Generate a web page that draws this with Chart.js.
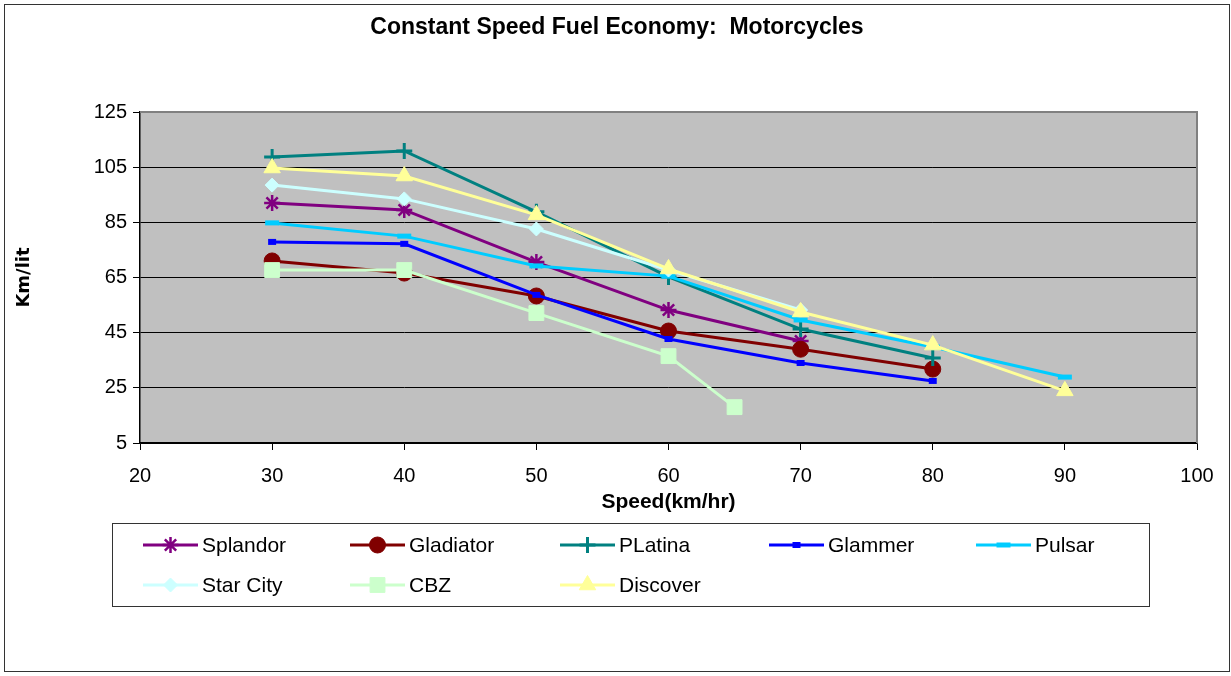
<!DOCTYPE html>
<html>
<head>
<meta charset="utf-8">
<script src="https://cdn.jsdelivr.net/npm/chart.js"></script>
<style>
  html, body { margin: 0; padding: 0; background: #fff; }
  canvas { display: block; }
</style>
</head>
<body>
<canvas id="fuelChart" width="1231" height="676"></canvas>
<script>
// speeds (km/hr) used by each series
const speedTo70 = [30, 40, 50, 60, 70];
const speedTo80 = [30, 40, 50, 60, 70, 80];
const speedTo90 = [30, 40, 50, 60, 70, 80, 90];
const cbzSpeeds = [30, 40, 50, 60, 65];

// fuel economy (km/lit)
const splandor = [92, 89.5, 70.6, 53.2, 42];
const gladiator = [71, 66.6, 58.3, 45.6, 39, 31.8];
const platina = [108.7, 110.9, 88.8, 65.2, 46.3, 35.8];
const glammer = [77.9, 77.2, 58.7, 42.7, 34, 27.5];
const pulsar = [84.8, 80, 69.2, 65.5, 49.6, 39.8, 28.9];
const starCity = [98.5, 93.5, 82.6, 67.7, 53.2];
const cbz = [67.7, 67.7, 52.1, 36.5, 18];
const discover = [104.7, 101.8, 87.7, 68.1, 52.5, 40.5, 23.9];

const xTicks = [20, 30, 40, 50, 60, 70, 80, 90, 100];
const yTicks = [5, 25, 45, 65, 85, 105, 125];

const chartTitle = 'Constant Speed Fuel Economy:  Motorcycles';
const FONT = '"Liberation Sans", Arial, sans-serif';

function pts(xs, ys) {
  return xs.map((x, i) => ({ x: x, y: ys[i] }));
}

function series(label, xs, ys, color, style, radius, pbw) {
  return {
    label: label,
    data: pts(xs, ys),
    borderColor: color,
    backgroundColor: color,
    borderWidth: 3,
    tension: 0,
    pointStyle: style,
    pointRadius: radius,
    pointBackgroundColor: color,
    pointBorderColor: color,
    pointBorderWidth: pbw,
  };
}

const datasets = [
  series('Splandor', speedTo70, splandor, '#800080', 'star', 8, 2.5),
  series('Gladiator', speedTo80, gladiator, '#800000', 'circle', 8, 1),
  series('PLatina', speedTo80, platina, '#008080', 'cross', 8, 3),
  series('Glammer', speedTo80, glammer, '#0000ff', 'line', 4, 6),
  series('Pulsar', speedTo90, pulsar, '#00ccff', 'line', 7, 5),
  series('Star City', speedTo70, starCity, '#ccffff', 'rectRot', 7, 1),
  series('CBZ', cbzSpeeds, cbz, '#ccffcc', 'rect', 10.5, 1),
  series('Discover', speedTo90, discover, '#ffff99', 'triangle', 9.5, 1),
];
// later series drawn on top, like the original
datasets.forEach((d, i) => { d.order = datasets.length - i; });

const legendCols = [143, 350, 560, 769, 976];
const legendRows = [545, 585];

const frame = {
  id: 'frame',
  beforeDraw(chart) {
    const { ctx, chartArea: a } = chart;
    ctx.save();
    ctx.fillStyle = '#fff';
    ctx.fillRect(0, 0, chart.width, chart.height);
    ctx.fillStyle = '#c0c0c0';
    ctx.fillRect(a.left, a.top, a.right - a.left, a.bottom - a.top);
    ctx.strokeStyle = '#333';
    ctx.lineWidth = 1;
    ctx.strokeRect(4.5, 4.5, 1225, 667);
    // chart title, centred on the whole frame
    ctx.fillStyle = '#000';
    ctx.font = 'bold 23px ' + FONT;
    ctx.textAlign = 'center';
    ctx.textBaseline = 'middle';
    ctx.fillText(chartTitle, 617, 28);
    ctx.restore();
  },
  beforeDatasetsDraw(chart) {
    const { ctx, chartArea: a } = chart;
    ctx.save();
    ctx.strokeStyle = '#808080';
    ctx.lineWidth = 2;
    ctx.beginPath();
    ctx.moveTo(a.left, a.top);
    ctx.lineTo(a.right, a.top);
    ctx.lineTo(a.right, a.bottom);
    ctx.stroke();
    ctx.restore();
  },
  afterDraw(chart) {
    const ctx = chart.ctx;
    ctx.save();
    ctx.strokeStyle = '#333';
    ctx.lineWidth = 1;
    ctx.strokeRect(112.5, 523.5, 1037, 83);
    chart.data.datasets.forEach((d, i) => {
      const x = legendCols[i % 5];
      const y = legendRows[Math.floor(i / 5)];
      ctx.strokeStyle = d.borderColor;
      ctx.lineWidth = 3;
      ctx.beginPath();
      ctx.moveTo(x, y);
      ctx.lineTo(x + 55, y);
      ctx.stroke();
      ctx.fillStyle = d.pointBackgroundColor;
      ctx.strokeStyle = d.pointBorderColor;
      ctx.lineWidth = d.pointBorderWidth;
      Chart.helpers.drawPoint(ctx, {
        pointStyle: d.pointStyle,
        radius: d.pointRadius,
        borderWidth: d.pointBorderWidth,
        rotation: 0,
      }, x + 27.5, y);
      ctx.fillStyle = '#000';
      ctx.font = '21px ' + FONT;
      ctx.textBaseline = 'middle';
      ctx.textAlign = 'left';
      ctx.fillText(d.label, x + 59, y + 1);
    });
    ctx.restore();
  }
};

const ctx = document.getElementById('fuelChart').getContext('2d');
new Chart(ctx, {
  type: 'line',
  data: { datasets: datasets },
  plugins: [frame],
  options: {
    responsive: false,
    animation: false,
    layout: { padding: { left: 8, right: 34, top: 112, bottom: 153 } },
    plugins: {
      legend: { display: false },
      tooltip: { enabled: false },
      title: { display: false },
    },
    scales: {
      x: {
        type: 'linear',
        min: 20,
        max: 100,
        afterBuildTicks(scale) { scale.ticks = xTicks.map(v => ({ value: v })); },
        afterFit(scale) { scale.height = 80; },
        grid: { drawOnChartArea: false, drawTicks: true, tickLength: 7, tickColor: '#000' },
        border: { color: '#000', width: 1.5 },
        ticks: { color: '#000', font: { family: FONT, size: 20 }, padding: 14, maxRotation: 0 },
        title: {
          display: true,
          text: 'Speed(km/hr)',
          color: '#000',
          font: { family: FONT, size: 21, weight: 'bold' },
          padding: { top: 0, bottom: 8 },
        },
      },
      y: {
        min: 5,
        max: 125,
        afterBuildTicks(scale) { scale.ticks = yTicks.map(v => ({ value: v })); },
        afterFit(scale) { scale.width = 132; },
        grid: {
          color: c => (c.tick && c.tick.value === 125 ? 'rgba(0,0,0,0)' : '#000'),
          lineWidth: 1,
          tickLength: 7,
          tickColor: '#000',
        },
        border: { color: '#000', width: 1.5 },
        ticks: { color: '#000', font: { family: FONT, size: 20 }, padding: 6 },
        title: {
          display: true,
          text: 'Km/lit',
          color: '#000',
          font: { family: '"DejaVu Sans", Verdana, sans-serif', size: 18, weight: 'bold' },
          padding: { top: 6, bottom: 0 },
        },
      },
    },
  },
});
</script>
</body>
</html>
